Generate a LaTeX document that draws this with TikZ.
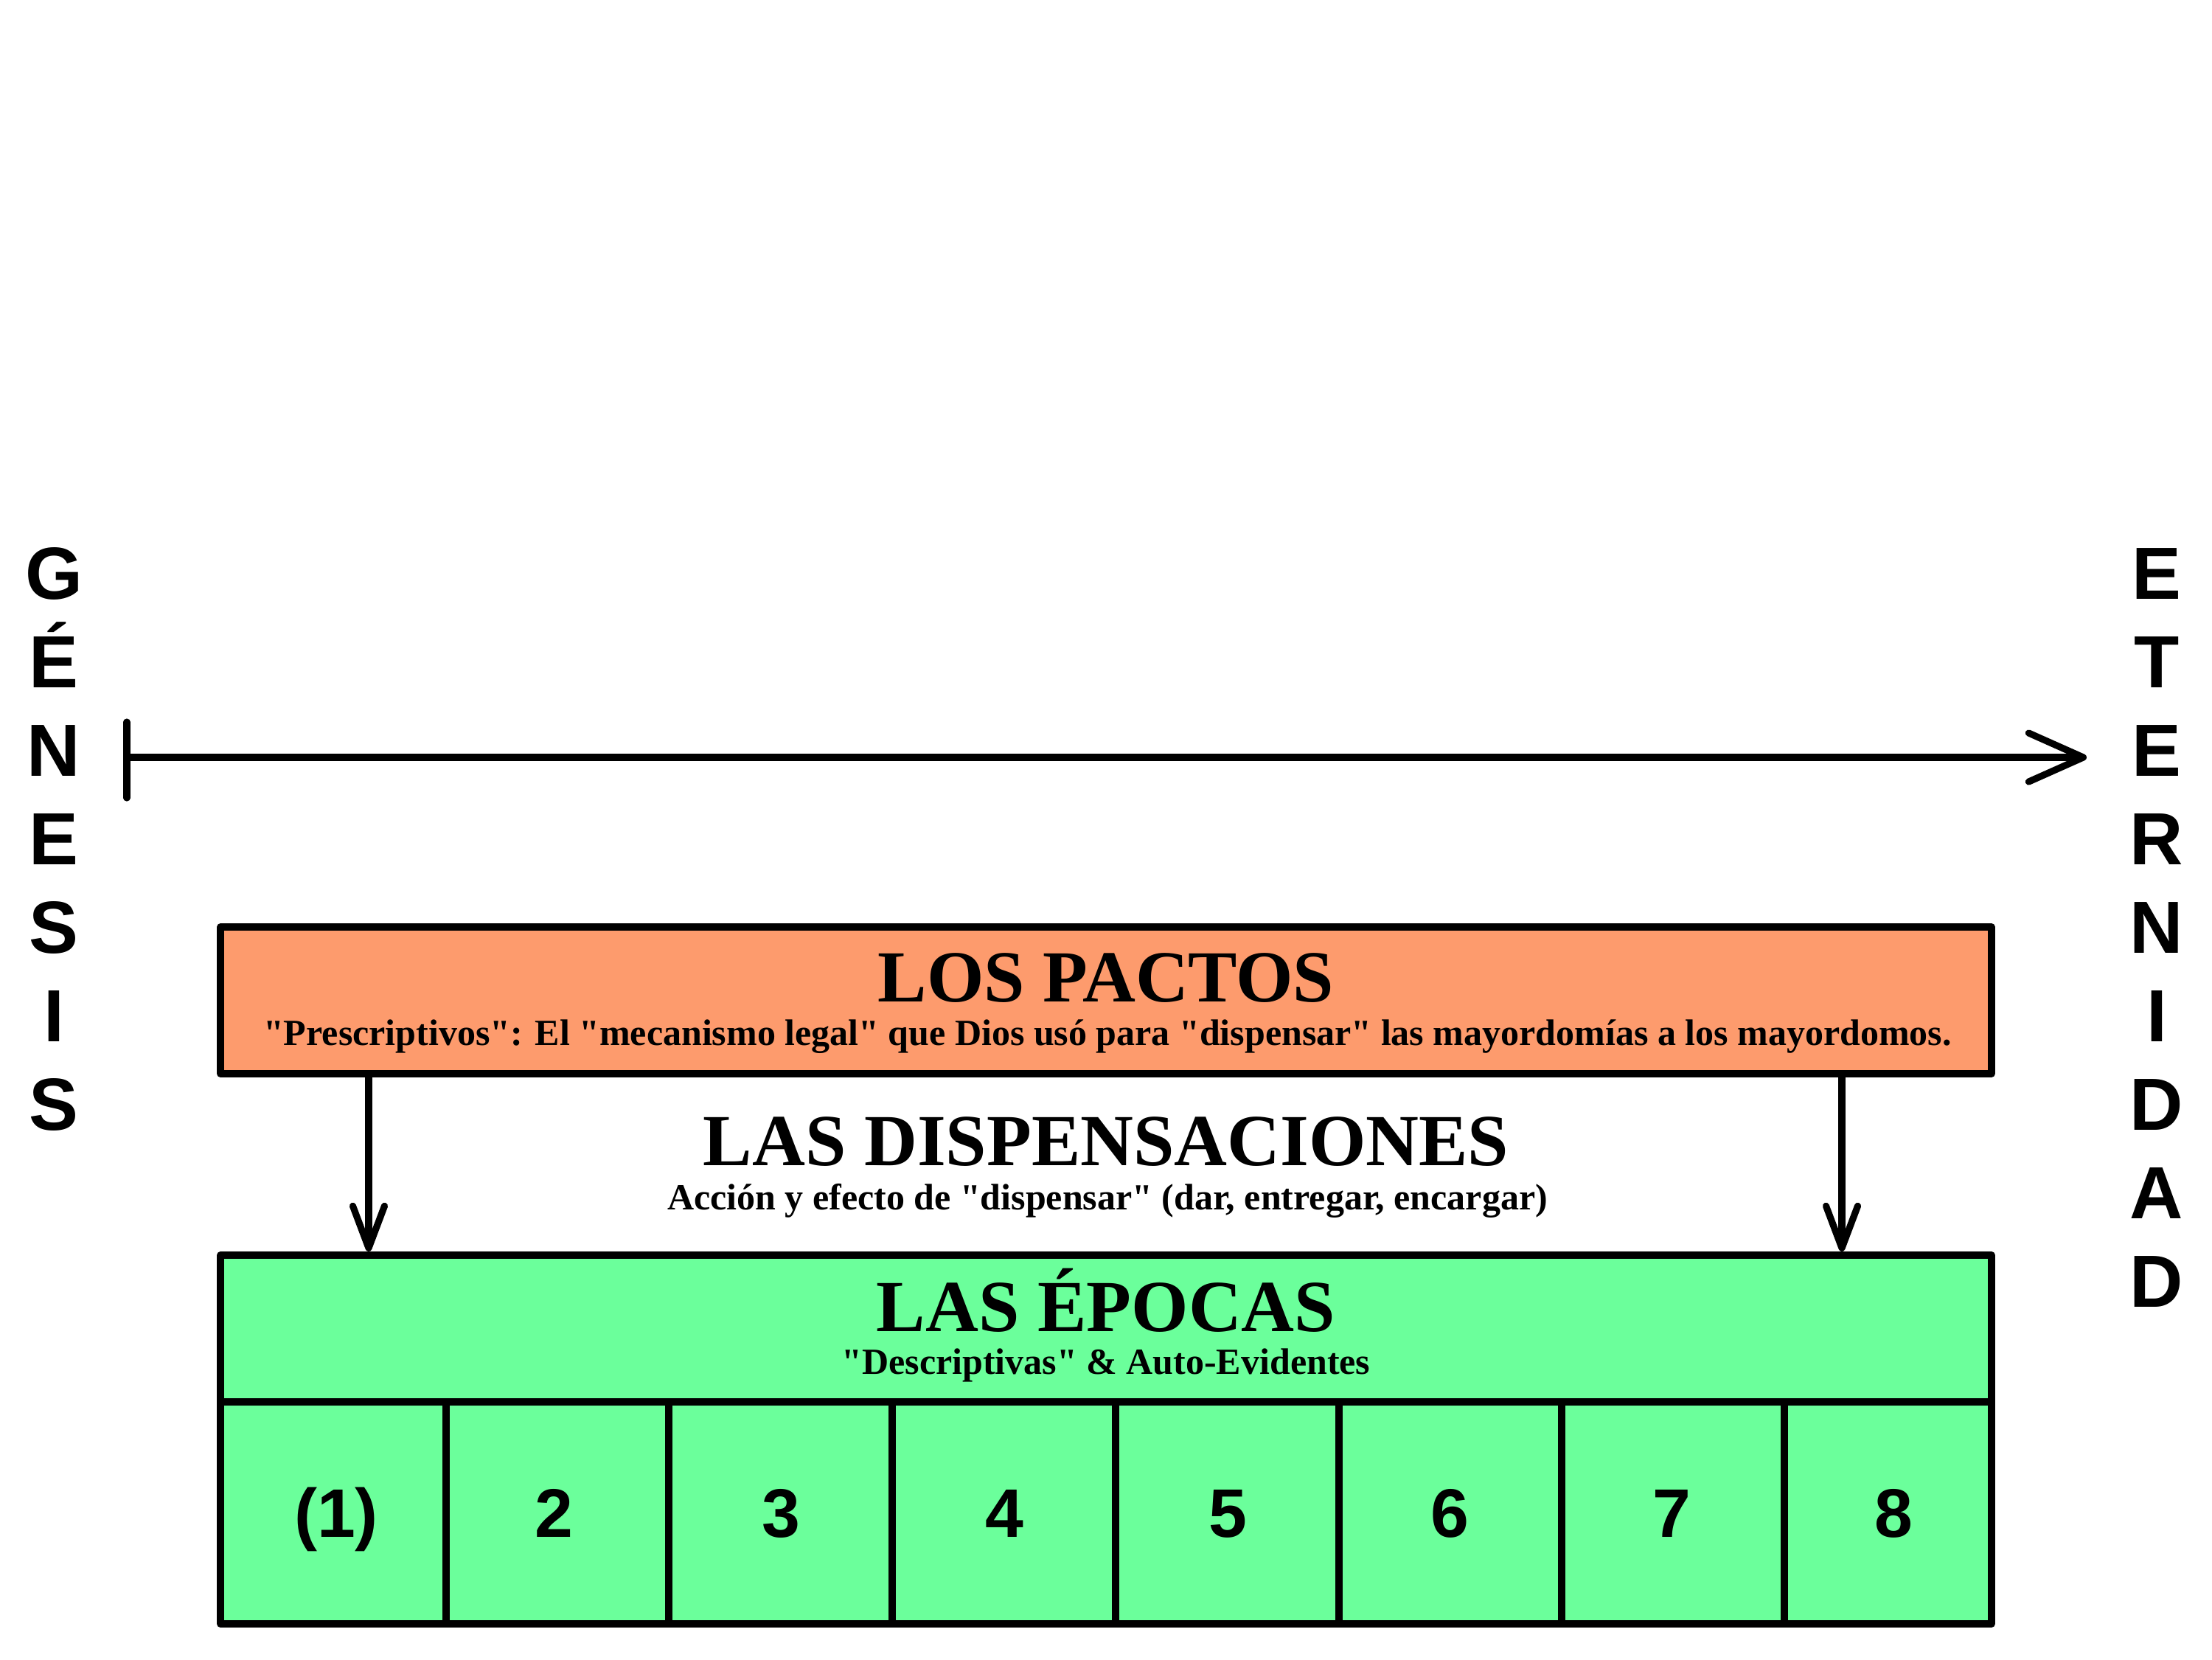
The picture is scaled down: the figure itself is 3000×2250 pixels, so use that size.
\documentclass[tikz,border=0pt]{standalone}
\usepackage{fontspec}
\setmainfont{Liberation Serif}[Ligatures=TeXOff]
\newfontfamily\arialfont{Liberation Sans}
\usetikzlibrary{arrows.meta}
\definecolor{pactocol}{HTML}{FD9B6D}
\definecolor{epocacol}{HTML}{6BFF9B}
\begin{document}
\begin{tikzpicture}[x=0.01cm,y=-0.01cm,
  thickline/.style={line width=2.6pt},
  boxstyle/.style={draw, line width=2.8pt, line join=round, inner sep=0pt, minimum width=24cm},
  titletext/.style={font=\fontsize{28.3}{34}\selectfont\bfseries, anchor=base, inner sep=0pt},
  subtext/.style={font=\fontsize{14.22}{17}\selectfont\bfseries, anchor=base, inner sep=0pt},
  vletter/.style={font=\arialfont\fontsize{28.5}{34}\selectfont\bfseries, anchor=base, inner sep=0pt},
  numtext/.style={font=\arialfont\fontsize{26.5}{32}\selectfont\bfseries, anchor=base, inner sep=0pt},
]
\useasboundingbox[fill=white] (0,0) rectangle (3000,2250);

% timeline
\coordinate (tstart) at (172,1027);
\coordinate (tend) at (2830,1027);
\coordinate (ticktop) at (172,979);
\coordinate (tickbot) at (172,1082);
\draw[thickline, -{Straight Barb[length=0.74cm,width=0.66cm,round]}] (tstart) -- (tend);
\draw[thickline, line cap=round] (ticktop) -- (tickbot);

% side words
\foreach \l [count=\i] in {G,É,N,E,S,I,S}
  \node[vletter] (gen\i) at (73,{812+120*(\i-1)}) {\l};
\foreach \l [count=\i] in {E,T,E,R,N,I,D,A,D}
  \node[vletter] (ete\i) at (2925,{812+120*(\i-1)}) {\l};

% boxes
\node[boxstyle, fill=pactocol, minimum height=1.99cm] (pactos) at (1500,1356.5) {};
\node[boxstyle, fill=epocacol, minimum height=5cm] (epocas) at (1500,1952) {};

% header separator and cell dividers
\coordinate (sepl) at (300,1901);
\coordinate (sepr) at (2700,1901);
\draw[thickline] (sepl) -- (sepr);
\foreach \x [count=\i] in {605,907,1210,1513,1816,2118,2420} {
  \coordinate (dt\i) at (\x,1901);
  \coordinate (db\i) at (\x,2202);
  \draw[thickline] (dt\i) -- (db\i);
}

% texts
\node[titletext] (tpactos) at (1500,1358) {LOS PACTOS};
\node[subtext] (spactos) at (1502,1417) {"Prescriptivos": El "mecanismo legal" que Dios usó para "dispensar" las mayordomías a los mayordomos.};
\node[titletext] (tdisp) at (1500,1580) {LAS DISPENSACIONES};
\node[subtext] (sdisp) at (1502,1640) {Acción y efecto de "dispensar" (dar, entregar, encargar)};
\node[titletext] (tepocas) at (1500,1805) {LAS ÉPOCAS};
\node[subtext] (sepocas) at (1500,1863) {"Descriptivas" \& Auto-Evidentes};

% numbers
\foreach \x/\t [count=\i] in {456/(1),751/2,1059/3,1362/4,1665/5,1966/6,2267/7,2568/8}
  \node[numtext] (n\i) at (\x,2084) {\t};

% down arrows
\coordinate (al) at (500,0);
\coordinate (ar) at (2498,0);
\draw[thickline, -{Straight Barb[length=0.57cm,width=0.43cm,round]}] (pactos.south -| al) -- (epocas.north -| al);
\draw[thickline, -{Straight Barb[length=0.57cm,width=0.43cm,round]}] (pactos.south -| ar) -- (epocas.north -| ar);
\end{tikzpicture}
\end{document}
